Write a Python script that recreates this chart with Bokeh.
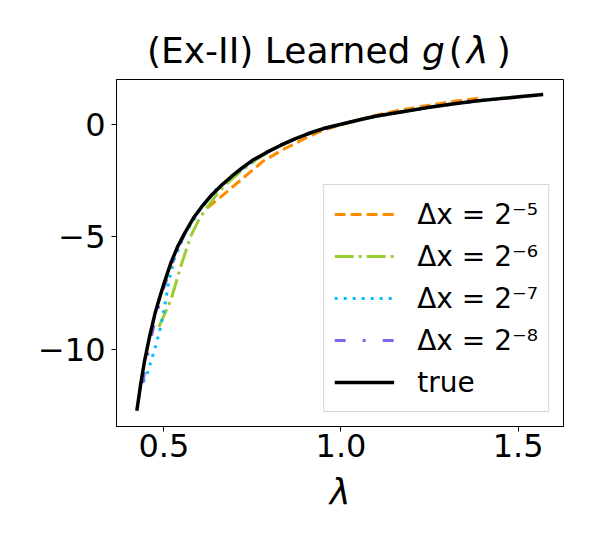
from bokeh.plotting import figure
from bokeh.models import FixedTicker, Legend, LegendItem, Div
from bokeh.layouts import column
from bokeh.embed import file_html
from bokeh.resources import INLINE

# ---- data ----
lam_true = [0.4236, 0.435, 0.445, 0.46, 0.475, 0.49, 0.50, 0.52, 0.54, 0.56, 0.585, 0.61,
            0.635, 0.66, 0.69, 0.72, 0.75, 0.79, 0.83, 0.87, 0.91, 0.95, 1.0, 1.05, 1.10,
            1.17, 1.24, 1.31, 1.38, 1.45, 1.51, 1.5708]
g_true = [-12.73, -11.5, -10.55, -9.4, -8.4, -7.6, -7.09, -6.15, -5.4, -4.8, -4.13, -3.6,
          -3.14, -2.75, -2.33, -1.95, -1.60, -1.25, -0.93, -0.65, -0.40, -0.19, 0.0, 0.19, 0.37,
          0.55, 0.73, 0.89, 1.03, 1.14, 1.23, 1.32]

lam_dx5 = [0.622, 0.659, 0.725, 0.781, 0.838, 0.894, 0.941, 1.0, 1.05, 1.10, 1.166, 1.25, 1.32, 1.399]
g_dx5 = [-3.72, -3.25, -2.37, -1.63, -1.11, -0.66, -0.32, -0.02, 0.20, 0.40, 0.63, 0.85, 1.02, 1.18]

lam_dx6 = [0.486, 0.52, 0.547, 0.575, 0.60, 0.622, 0.65, 0.678, 0.72, 0.76, 0.80, 0.87, 0.95,
           1.05, 1.17, 1.31, 1.45, 1.55]
g_dx6 = [-9.0, -7.8, -6.35, -5.0, -4.2, -3.69, -3.1, -2.62, -2.05, -1.58, -1.18, -0.66, -0.2,
         0.19, 0.56, 0.90, 1.16, 1.29]

lam_dx7 = [0.431, 0.453, 0.476, 0.491, 0.505, 0.514, 0.53, 0.56, 0.60, 0.65, 0.72, 0.79, 0.87,
           0.95, 1.05, 1.17, 1.31, 1.45, 1.55]
g_dx7 = [-11.82, -11.08, -9.9, -9.0, -7.83, -6.94, -5.95, -4.85, -3.85, -2.85, -1.98, -1.25,
         -0.65, -0.19, 0.19, 0.56, 0.90, 1.16, 1.30]

lam_dx8 = [0.44, 0.46, 0.48, 0.50, 0.54, 0.585, 0.635, 0.69, 0.75, 0.83, 0.91, 1.0, 1.10,
           1.24, 1.38, 1.51, 1.55]
g_dx8 = [-11.5, -9.75, -8.4, -7.25, -5.45, -4.13, -3.14, -2.33, -1.60, -0.93, -0.40, 0.0, 0.37,
         0.73, 1.03, 1.23, 1.29]

legend_labels = ["Δx = 2⁻⁵", "Δx = 2⁻⁶", "Δx = 2⁻⁷", "Δx = 2⁻⁸", "true"]
x_ticks = [0.5, 1.0, 1.5]
y_ticks = [-10, -5, 0]
y_tick_labels = {-10: "−10", -5: "−5", 0: "0"}
x_tick_labels = {0.5: "0.5", 1.0: "1.0", 1.5: "1.5"}

FONT = "DejaVu Sans"
W = 592

# ---- title (mixed upright / italic pieces, as in mathtext) ----
title_html = (
    '<div style="font-family:\'DejaVu Sans\';font-size:36px;line-height:42px;'
    'padding-top:30px;padding-left:147px;white-space:nowrap;color:black;margin:0">'
    '(Ex-II) Learned <i>g</i><span style="margin-left:4px">(</span>'
    '<i style="margin-left:4px;padding-right:8px;font-size:37px">λ</i>)</div>'
)
title = Div(text=title_html, width=W, height=79, margin=(0, 0, 0, 0))

# ---- main plot ----
p = figure(frame_width=447, frame_height=347,
           x_range=(0.3662, 1.6282), y_range=(-13.43, 1.99),
           output_backend="svg", toolbar_location=None,
           min_border_left=116, min_border_right=29, min_border_top=0, min_border_bottom=116)
p.xgrid.visible = False
p.ygrid.visible = False
p.outline_line_color = "black"
p.outline_line_width = 1

r5 = p.line(lam_dx5, g_dx5, line_color="#FF8C00", line_width=3, line_dash="11 5")
r6 = p.line(lam_dx6, g_dx6, line_color="#9ACD32", line_width=3, line_dash="19 5 3 5")
r7 = p.line(lam_dx7, g_dx7, line_color="#00BFFF", line_width=3, line_dash="3 6")
r8 = p.line(lam_dx8, g_dx8, line_color="#7B68EE", line_width=3, line_dash="11 17 3 17")
rt = p.line(lam_true, g_true, line_color="black", line_width=3.5)

for ax in (p.xaxis[0], p.yaxis[0]):
    ax.major_label_text_font = FONT
    ax.major_label_text_font_size = "32px"
    ax.major_label_text_color = "black"
    ax.major_tick_out = 5
    ax.major_tick_in = 0
    ax.minor_tick_line_color = None
    ax.axis_line_color = "black"
    ax.major_tick_line_color = "black"

p.xaxis.ticker = FixedTicker(ticks=x_ticks)
p.xaxis.major_label_overrides = x_tick_labels
p.yaxis.ticker = FixedTicker(ticks=y_ticks)
p.yaxis.major_label_overrides = y_tick_labels
p.xaxis.major_label_standoff = 2
p.yaxis.major_label_standoff = 6

p.xaxis.axis_label = "λ"
p.xaxis.axis_label_text_font = FONT
p.xaxis.axis_label_text_font_style = "italic"
p.xaxis.axis_label_text_font_size = "35px"
p.xaxis.axis_label_text_color = "black"
p.xaxis.axis_label_standoff = 12

legend = Legend(items=[LegendItem(label=legend_labels[0], renderers=[r5]),
                       LegendItem(label=legend_labels[1], renderers=[r6]),
                       LegendItem(label=legend_labels[2], renderers=[r7]),
                       LegendItem(label=legend_labels[3], renderers=[r8]),
                       LegendItem(label=legend_labels[4], renderers=[rt])],
                location="bottom_right")
legend.label_text_font = FONT
legend.label_text_font_size = "28px"
legend.label_text_color = "black"
legend.glyph_width = 60
legend.glyph_height = 38
legend.label_standoff = 23
legend.spacing = 4
legend.padding = 10
legend.margin = 14
legend.border_line_color = "#cccccc"
legend.border_line_alpha = 0.8
legend.background_fill_alpha = 0.8
p.add_layout(legend)

layout = column(title, p, spacing=0)
open("out.html", "w").write(file_html(layout, INLINE))
